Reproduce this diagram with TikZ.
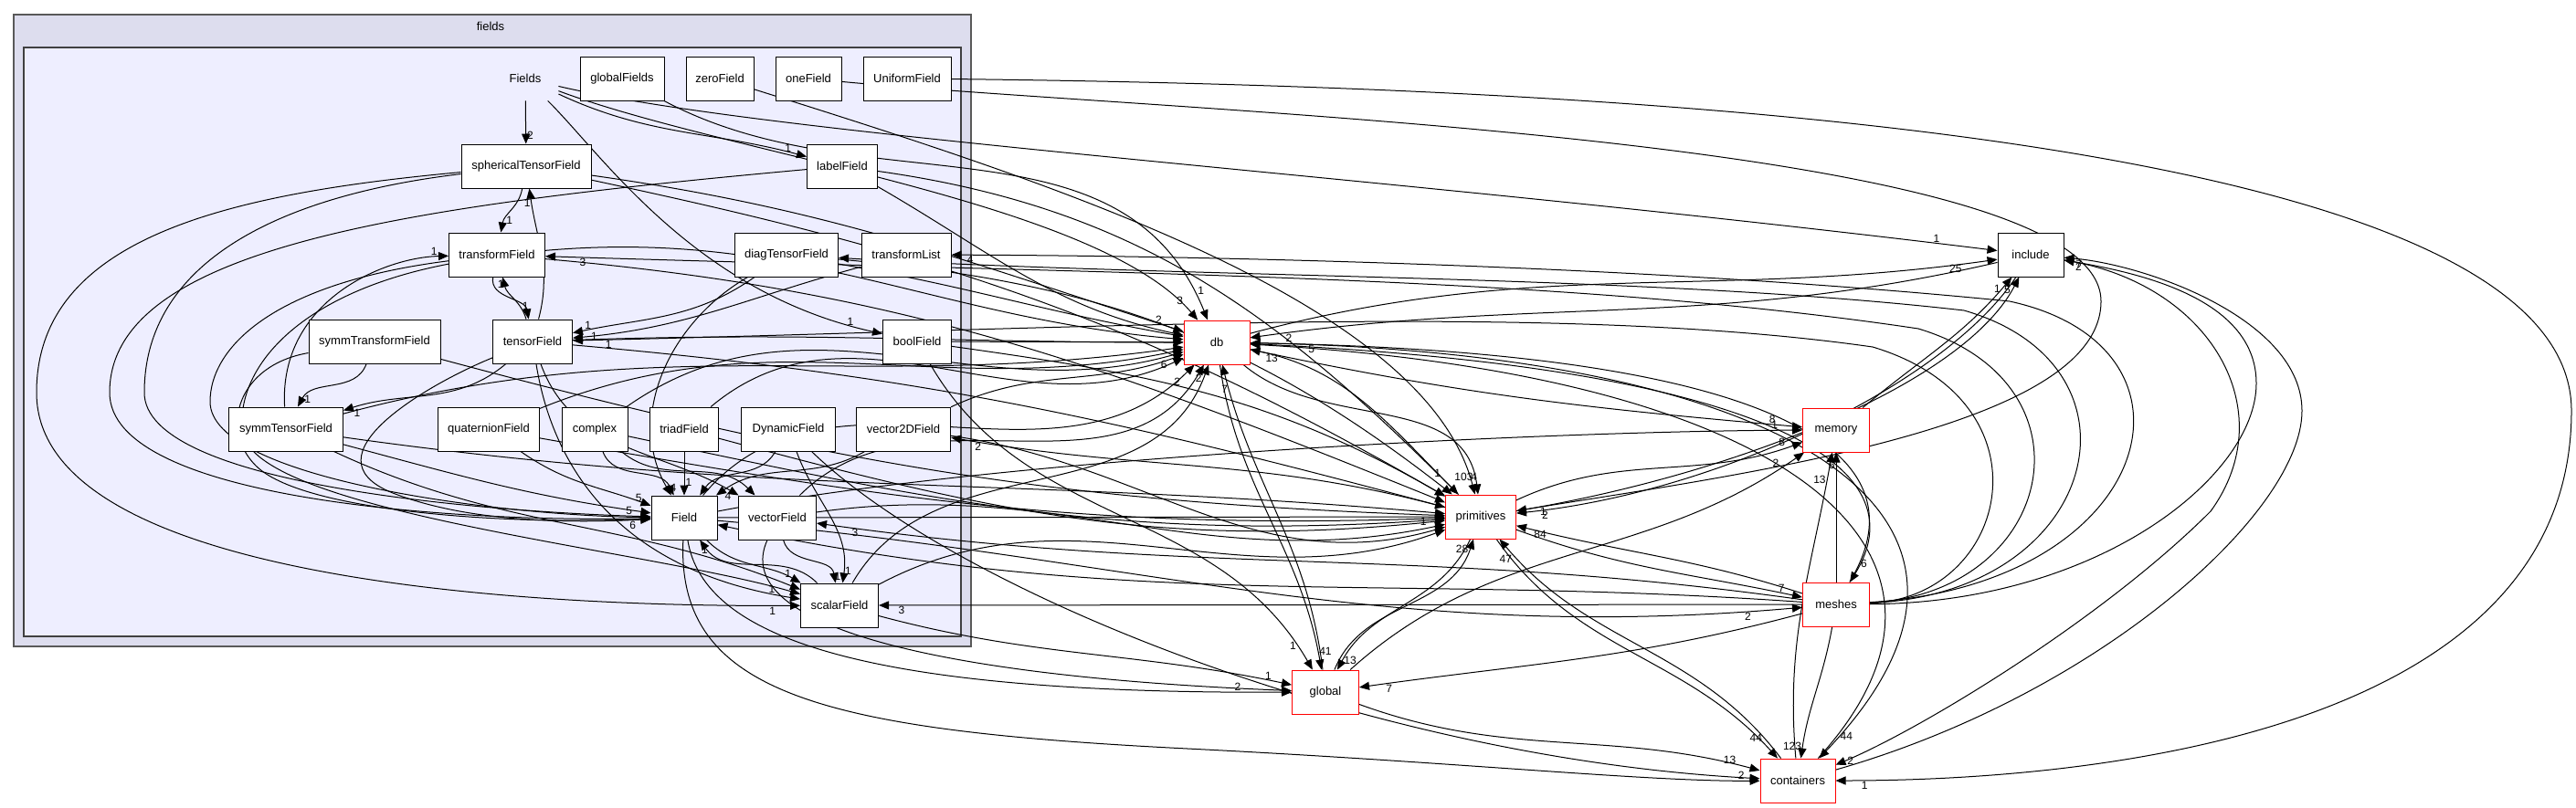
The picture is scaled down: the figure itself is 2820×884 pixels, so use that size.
\documentclass[tikz,border=0pt]{standalone}
\usepackage{fontspec}
\setmainfont{Liberation Sans}
\usetikzlibrary{arrows.meta}
\definecolor{outerc}{HTML}{DDDDEE}
\definecolor{innerc}{HTML}{EEEEFF}
\pgfdeclarelayer{clusters}
\pgfdeclarelayer{edges}
\pgfsetlayers{clusters,edges,main}
\tikzset{
  box/.style={draw=black,fill=white,line width=.5pt,minimum height=24pt,inner sep=1pt,font=\fontsize{6.5}{6.5}\selectfont},
  rbox/.style={box,draw=red},
  e/.style={-{Triangle[length=5.5pt,width=4.5pt]},line width=.5pt},
  lb/.style={font=\fontsize{6}{6}\selectfont,inner sep=.5pt},
}
\begin{document}
\begin{tikzpicture}[x=.5pt,y=.5pt]
\useasboundingbox (0,0) rectangle (2820,-884);
\begin{pgfonlayer}{clusters}
\fill[white] (0,0) rectangle (2820,-884);
\draw[fill=outerc,draw=black!65,line width=1pt] (15,-16) rectangle (1063,-708);
\node[font=\fontsize{6.5}{6.5}\selectfont] (fieldslbl) at (537,-29) {fields};
\draw[fill=innerc,draw=black!75,line width=1pt] (26,-52) rectangle (1052,-697);
\end{pgfonlayer}

% nodes
\node[minimum width=36pt,minimum height=24pt,inner sep=0pt,font=\fontsize{6.5}{6.5}\selectfont] (Fl) at (575,-86) {Fields};
\node[box,minimum width=46pt] (gF) at (681,-86) {globalFields};
\node[box,minimum width=37pt] (zF) at (788,-86) {zeroField};
\node[box,minimum width=36pt] (oF) at (885,-86) {oneField};
\node[box,minimum width=48pt] (uF) at (993,-86) {UniformField};
\node[box,minimum width=71pt] (sTF) at (576,-182) {sphericalTensorField};
\node[box,minimum width=38.5pt] (lF) at (922,-182) {labelField};
\node[box,minimum width=52.5pt] (trF) at (544,-279) {transformField};
\node[box,minimum width=56.5pt] (dTF) at (861,-279) {diagTensorField};
\node[box,minimum width=49pt] (tL) at (992,-279) {transformList};
\node[box,minimum width=72pt] (sTrF) at (410,-374) {symmTransformField};
\node[box,minimum width=43.5pt] (tF) at (583,-374) {tensorField};
\node[box,minimum width=37.5pt] (bF) at (1004,-374) {boolField};
\node[box,minimum width=62.5pt] (syTF) at (313,-470) {symmTensorField};
\node[box,minimum width=55.5pt] (qF) at (535,-470) {quaternionField};
\node[box,minimum width=36pt] (cx) at (651,-470) {complex};
\node[box,minimum width=37.5pt] (trdF) at (749,-470) {triadField};
\node[box,minimum width=51.5pt] (dyF) at (863,-470) {DynamicField};
\node[box,minimum width=51.5pt] (v2F) at (989,-470) {vector2DField};
\node[box,minimum width=36pt] (Fd) at (749,-567) {Field};
\node[box,minimum width=42.5pt] (vF) at (851,-567) {vectorField};
\node[box,minimum width=42.5pt] (sF) at (919,-663) {scalarField};
\node[rbox,minimum width=36pt] (db) at (1332,-375) {db};
\node[box,minimum width=36pt] (inc) at (2223,-279) {include};
\node[rbox,minimum width=36.5pt] (mem) at (2010,-471) {memory};
\node[rbox,minimum width=38.5pt] (prim) at (1621,-566) {primitives};
\node[rbox,minimum width=36.5pt] (mesh) at (2010,-662) {meshes};
\node[rbox,minimum width=36.5pt] (glob) at (1451,-758) {global};
\node[rbox,minimum width=41pt] (cont) at (1968,-855) {containers};

\begin{pgfonlayer}{edges}
% ---- internal edges
\draw[e] (Fl) -- (sTF) node[lb,pos=.8,right]{2};
\draw[e] (Fl) to[out=-25,in=165] node[lb,pos=.95,above left]{1} (lF);
\draw[e] (Fl) .. controls (660,-170) and (760,-320) .. (bF) node[lb,pos=.95,above left]{1};
\draw[e] (sTF) to[out=-100,in=80] node[lb,pos=.75,right]{1} (trF);
\draw[e] (tF) to[out=75,in=-82] node[lb,pos=.9,left]{1} (sTF);
\draw[e] (trF) to[out=-100,in=100] node[lb,pos=.75,right]{1} (tF);
\draw[e] (tF) to[out=106,in=-76] node[lb,pos=.85,left]{1} (trF);
\draw[e] (sTrF) to[out=-110,in=62] node[lb,pos=.9,right]{1} (syTF);
\draw[e] (tF) to[out=-140,in=18] node[lb,pos=.95,below right]{1} (syTF);
\draw[e] (syTF) .. controls (305,-330) and (420,-282) .. (trF) node[lb,pos=.95,above left]{1};
\draw[e] (dTF) to[out=-145,in=12] node[lb,pos=.95,above right]{1} (tF);
\draw[e] (tL) to[out=-165,in=5] node[lb,pos=.95,right]{1} (tF);
\draw[e] (sTF) .. controls (300,-215) and (158,-290) .. (158,-430) .. controls (158,-530) and (520,-560) .. (Fd) node[lb,pos=.96,above]{5};
\draw[e] (lF) .. controls (450,-225) and (120,-270) .. (120,-430) .. controls (120,-548) and (500,-572) .. (Fd);
\draw[e] (sTF) .. controls (250,-212) and (40,-260) .. (40,-430) .. controls (40,-640) and (600,-665) .. (sF) node[lb,pos=.97,below left]{1};
\draw[e] (trF) .. controls (300,-310) and (230,-380) .. (230,-440) .. controls (230,-525) and (550,-565) .. (Fd);
\draw[e] (trF) .. controls (330,-320) and (260,-400) .. (265,-470) .. controls (270,-560) and (700,-600) .. (sF);
\draw[e] (sTrF) .. controls (260,-400) and (240,-470) .. (280,-510) .. controls (330,-560) and (550,-575) .. (Fd) node[lb,pos=.96,below]{6};
\draw[e] (tF) .. controls (470,-420) and (330,-500) .. (430,-540) .. controls (520,-575) and (640,-572) .. (Fd);
\draw[e] (tF) .. controls (600,-480) and (650,-620) .. (sF) node[lb,pos=.96,above left]{1};
\draw[e] (tF) to[out=-70,in=150] (vF);
\draw[e] (syTF) to[out=-15,in=172] (Fd);
\draw[e] (syTF) to[out=-25,in=158] (sF);
\draw[e] (qF) to[out=-35,in=160] node[lb,pos=.95,above left]{5} (Fd);
\draw[e] (cx) to[out=-70,in=115] node[lb,pos=.9,right]{4} (Fd);
\draw[e] (cx) to[out=-40,in=135] (vF);
\draw[e] (trdF) -- (Fd) node[lb,pos=.7,right]{1};
\draw[e] (dyF) to[out=-120,in=55] (Fd);
\draw[e] (v2F) to[out=-150,in=35] node[lb,pos=.95,below right]{4} (Fd);
\draw[e] (vF) to[out=-75,in=100] node[lb,pos=.9,right]{1} (sF);
\draw[e] (dyF) to[out=-70,in=82] node[lb,pos=.92,right]{1} (sF);
\draw[e] (Fd) to[out=-45,in=150] node[lb,pos=.92,above left]{1} (sF);
\draw[e] (sF) to[out=135,in=-55] node[lb,pos=.9,left]{1} (Fd);
\draw[e] (dTF) to[out=-150,in=120] (Fd);

% ---- fields -> db
\draw[e] (Fl) .. controls (800,-170) and (1200,-220) .. (db) node[lb,pos=.96,above left]{3};
\draw[e] (gF) to[out=-28,in=112] node[lb,pos=.96,above right]{1} (db);
\draw[e] (sTF) to[out=-8,in=162] node[lb,pos=.97,above left]{2} (db);
\draw[e] (lF) to[out=-30,in=168] (db);
\draw[e] (trF) to[out=5,in=175] (db);
\draw[e] (tF) to[out=2,in=180] (db);
\draw[e] (bF) -- (db);
\draw[e] (syTF) to[out=15,in=188] (db);
\draw[e] (qF) to[out=22,in=192] (db);
\draw[e] (cx) to[out=35,in=196] (db);
\draw[e] (trdF) to[out=40,in=205] node[lb,pos=.97,left]{6} (db);
\draw[e] (v2F) to[out=25,in=200] (db);
\draw[e] (Fd) to[out=50,in=225] node[lb,pos=.97,below left]{2} (db);
\draw[e] (vF) to[out=45,in=240] (db);
\draw[e] (sF) to[out=60,in=250] node[lb,pos=.97,left]{2} (db);
\draw[e] (dTF) to[out=-10,in=170] (db);

% ---- fields -> primitives
\draw[e] (sTF) to[out=-12,in=150] (prim);
\draw[e] (trF) to[out=-5,in=158] (prim);
\draw[e] (tF) to[out=-5,in=165] (prim);
\draw[e] (syTF) to[out=-8,in=175] (prim);
\draw[e] (sTrF) to[out=-15,in=178] (prim);
\draw[e] (qF) to[out=-10,in=182] (prim);
\draw[e] (cx) to[out=-12,in=184] (prim);
\draw[e] (trdF) to[out=-15,in=186] (prim);
\draw[e] (Fd) -- (prim) node[lb,pos=.97,below]{1};
\draw[e] (vF) to[out=8,in=192] (prim);
\draw[e] (sF) to[out=28,in=200] (prim);
\draw[e] (lF) to[out=-8,in=135] node[lb,pos=.97,above left]{1} (prim);
\draw[e] (bF) to[out=-8,in=150] (prim);
\draw[e] (dTF) to[out=-5,in=142] (prim);
\draw[e] (v2F) to[out=-8,in=196] (prim);
\draw[e] (zF) .. controls (1150,-200) and (1560,-330) .. (prim) node[lb,pos=.97,right]{4};
\draw[e] (oF) .. controls (1300,-125) and (2300,-150) .. (2300,-330) .. controls (2300,-470) and (1900,-520) .. (prim) node[lb,pos=.96,below]{1};

% ---- db relations
\draw[e] (db) to[out=-40,in=97] node[lb,pos=.94,left]{103} (prim);
\draw[e] (prim) to[out=135,in=-12] node[lb,pos=.95,below right]{13} (db);
\draw[e] (db) to[out=-12,in=175] node[lb,pos=.96,above left]{8} (mem);
\draw[e] (db) to[out=-82,in=100] node[lb,pos=.95,right]{41} (glob);
\draw[e] (glob) to[out=97,in=-76] node[lb,pos=.93,left]{7} (db);
\draw[e] (db) to[out=15,in=188] node[lb,pos=.96,below left]{25} (inc);
\draw[e] (inc) to[out=193,in=8] node[lb,pos=.96,below right]{2} (db);
\draw[e] (db) .. controls (1900,-400) and (2110,-500) .. (mesh) node[lb,pos=.95,right]{6};
\draw[e] (mesh) .. controls (2120,-480) and (1900,-385) .. (db) node[lb,pos=.96,below right]{5};
\draw[e] (db) .. controls (1950,-385) and (2250,-560) .. (cont) node[lb,pos=.97,right]{44};
\draw[e] (cont) .. controls (2200,-600) and (1950,-410) .. (db);

% ---- primitives relations
\draw[e] (prim) to[out=-115,in=62] node[lb,pos=.95,right]{13} (glob);
\draw[e] (glob) to[out=68,in=-108] node[lb,pos=.95,left]{28} (prim);
\draw[e] (prim) to[out=-55,in=132] node[lb,pos=.95,above left]{44} (cont);
\draw[e] (cont) to[out=127,in=-50] node[lb,pos=.95,below left]{47} (prim);
\draw[e] (prim) to[out=-20,in=168] node[lb,pos=.95,above left]{7} (mesh);
\draw[e] (mesh) to[out=162,in=-14] node[lb,pos=.95,below right]{84} (prim);
\draw[e] (prim) to[out=25,in=200] node[lb,pos=.95,above left]{8} (mem);
\draw[e] (prim) .. controls (1900,-520) and (2150,-420) .. (inc) node[lb,pos=.96,left]{5};
\draw[e] (inc) .. controls (2130,-420) and (1880,-540) .. (prim) node[lb,pos=.96,below right]{2};
\draw[e] (prim) to[out=165,in=-10] node[lb,pos=.96,below right]{2} (v2F);

% ---- memory, include
\draw[e] (Fd) .. controls (1100,-500) and (1700,-472) .. (mem) node[lb,pos=.97,above left]{1};
\draw[e] (glob) to[out=42,in=215] node[lb,pos=.95,above left]{2} (mem);
\draw[e] (cont) to[out=95,in=-100] node[lb,pos=.92,left]{13} (mem);
\draw[e] (mesh) -- (mem) node[lb,pos=.9,left]{6};
\draw[e] (mem) to[out=40,in=-130] node[lb,pos=.93,left]{1} (inc);
\draw[e] (Fl) .. controls (850,-150) and (1500,-190) .. (inc) node[lb,pos=.97,above left]{1};

% ---- meshes relations
\draw[e] (mesh) .. controls (2360,-640) and (2430,-380) .. (2200,-330) .. controls (1800,-290) and (1300,-280) .. (tL) node[lb,pos=.98,below right]{4};
\draw[e] (mesh) .. controls (2300,-650) and (2360,-400) .. (2150,-340) .. controls (1800,-300) and (1300,-305) .. (dTF) node[lb,pos=.98,below right]{2};
\draw[e] (mesh) .. controls (2250,-650) and (2300,-420) .. (2100,-360) .. controls (1700,-300) and (1200,-300) .. (trF) node[lb,pos=.98,below right]{3};
\draw[e] (mesh) .. controls (2200,-655) and (2250,-440) .. (2050,-380) .. controls (1700,-330) and (1200,-360) .. (tF) node[lb,pos=.98,below right]{1};
\draw[e] (mesh) -- (sF) node[lb,pos=.98,below right]{3};
\draw[e] (mesh) to[out=172,in=-8] node[lb,pos=.97,below right]{3} (vF);
\draw[e] (mesh) to[out=176,in=-12] (Fd);
\draw[e] (Fd) to[out=-5,in=185] node[lb,pos=.96,below left]{2} (mesh);
\draw[e] (mesh) to[out=-165,in=8] node[lb,pos=.95,below right]{7} (glob);
\draw[e] (mesh) to[out=-100,in=82] node[lb,pos=.92,left]{123} (cont);
\draw[e] (mesh) .. controls (2300,-660) and (2470,-520) .. (2470,-420) .. controls (2470,-330) and (2350,-300) .. (inc) node[lb,pos=.96,below right]{2};

% ---- containers, include loops
\draw[e] (cont) .. controls (2300,-760) and (2520,-560) .. (2520,-450) .. controls (2520,-350) and (2350,-290) .. (inc) node[lb,pos=.96,below right]{7};
\draw[e] (inc) .. controls (2420,-310) and (2500,-450) .. (2420,-560) .. controls (2300,-680) and (2100,-800) .. (cont) node[lb,pos=.96,right]{2};
\draw[e] (uF) .. controls (1800,-95) and (2815,-150) .. (2815,-450) .. controls (2815,-800) and (2300,-855) .. (cont) node[lb,pos=.97,below right]{1};

% ---- global / containers from fields
\draw[e] (bF) to[out=-60,in=120] node[lb,pos=.95,left]{1} (glob);
\draw[e] (sF) to[out=-15,in=168] node[lb,pos=.96,above left]{1} (glob);
\draw[e] (Fd) .. controls (770,-700) and (950,-760) .. (glob) node[lb,pos=.96,above left]{2};
\draw[e] (vF) .. controls (800,-680) and (1000,-740) .. (glob);
\draw[e] (glob) to[out=-20,in=165] node[lb,pos=.95,above left]{13} (cont);
\draw[e] (Fd) .. controls (740,-760) and (900,-800) .. (1300,-820) .. controls (1600,-835) and (1800,-856) .. (cont) node[lb,pos=.96,above left]{2};
\draw[e] (dyF) .. controls (1050,-650) and (1500,-830) .. (cont);
\end{pgfonlayer}
\end{tikzpicture}
\end{document}
